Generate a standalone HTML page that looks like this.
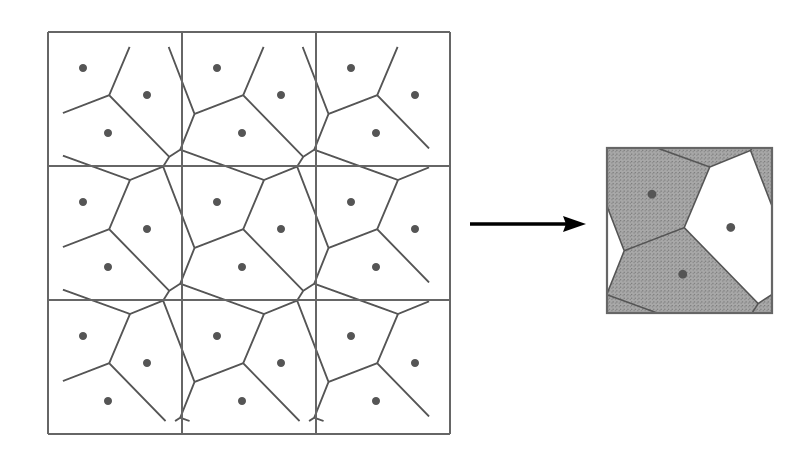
<!DOCTYPE html>
<html><head><meta charset="utf-8"><style>
html,body{margin:0;padding:0;background:#fff;overflow:hidden;width:794px;height:463px;}
svg{display:block;}
</style></head><body>
<svg id="fig" width="794" height="463" viewBox="0 0 794 463">
<defs>
<pattern id="stip" width="3" height="3" patternUnits="userSpaceOnUse">
<rect width="3" height="3" fill="#a8a8a8"/><rect width="1" height="1" fill="#7a7a7a"/><rect x="2" y="1" width="1" height="1" fill="#888"/>
</pattern>
</defs>
<g id="left"></g>
<g id="arrow">
<line x1="470" y1="224" x2="570" y2="224" stroke="#000" stroke-width="3.5"/>
<polygon points="586,224 563,216 566,224 563,232" fill="#000"/>
</g>
<g id="right"></g>
</svg>
<script>
const pointsX = [35, 99, 60];
const pointsY = [36, 63, 101];
const cellShade = ['gray', 'white', 'gray'];
const NS = 'http://www.w3.org/2000/svg';
const T = 134, OX = 48, OY = 32;
const IX0 = 63, IY0 = 47, IX1 = 429, IY1 = 421;

function clip(poly, px, py, qx, qy) {
  const mx = (px + qx) / 2, my = (py + qy) / 2, dx = qx - px, dy = qy - py;
  const f = p => (p[0] - mx) * dx + (p[1] - my) * dy;
  const out = [];
  for (let i = 0; i < poly.length; i++) {
    const a = poly[i], b = poly[(i + 1) % poly.length];
    const fa = f(a), fb = f(b);
    if (fa <= 0) out.push(a);
    if ((fa < 0 && fb > 0) || (fa > 0 && fb < 0)) {
      const t = fa / (fa - fb);
      out.push([a[0] + t * (b[0] - a[0]), a[1] + t * (b[1] - a[1])]);
    }
  }
  return out;
}
function clipSeg(a, b) {
  let t0 = 0, t1 = 1;
  const dx = b[0] - a[0], dy = b[1] - a[1];
  const P = [-dx, dx, -dy, dy], Q = [a[0] - IX0, IX1 - a[0], a[1] - IY0, IY1 - a[1]];
  for (let i = 0; i < 4; i++) {
    if (P[i] === 0) { if (Q[i] < 0) return null; continue; }
    const t = Q[i] / P[i];
    if (P[i] < 0) { if (t > t1) return null; if (t > t0) t0 = t; }
    else { if (t < t0) return null; if (t < t1) t1 = t; }
  }
  if (t1 - t0 < 1e-6) return null;
  return [[a[0] + t0 * dx, a[1] + t0 * dy], [a[0] + t1 * dx, a[1] + t1 * dy]];
}
function mk(tag, attrs, parent) {
  const e = document.createElementNS(NS, tag);
  for (const k in attrs) e.setAttribute(k, attrs[k]);
  parent.appendChild(e);
  return e;
}

// Left: periodic Voronoi, edges clipped to an inset region
const left = document.getElementById('left');
const all = [];
for (let r = -2; r <= 4; r++) for (let c = -2; c <= 4; c++)
  for (let k = 0; k < pointsX.length; k++)
    all.push([OX + c * T + pointsX[k], OY + r * T + pointsY[k], k, r, c]);
const big = [[OX - T, OY - T], [OX + 4 * T, OY - T], [OX + 4 * T, OY + 4 * T], [OX - T, OY + 4 * T]];
all.forEach((p, i) => {
  if (p[3] < -1 || p[3] > 3 || p[4] < -1 || p[4] > 3) return;
  let poly = big.slice();
  all.forEach((q, j) => {
    if (i !== j && Math.abs(q[0] - p[0]) < 2 * T && Math.abs(q[1] - p[1]) < 2 * T)
      poly = clip(poly, p[0], p[1], q[0], q[1]);
  });
  for (let e = 0; e < poly.length; e++) {
    const s = clipSeg(poly[e], poly[(e + 1) % poly.length]);
    if (!s) continue;
    const el = mk('line', {x1: s[0][0], y1: s[0][1], x2: s[1][0], y2: s[1][1], stroke: '#555', 'stroke-width': 1.7}, left);
    
    
  }
});
for (let i = 0; i <= 3; i++) {
  const v = mk('line', {x1: OX + i * T, y1: OY, x2: OX + i * T, y2: OY + 3 * T, stroke: '#666', 'stroke-width': 2}, left);
  
  
  const h = mk('line', {x1: OX, y1: OY + i * T, x2: OX + 3 * T, y2: OY + i * T, stroke: '#666', 'stroke-width': 2}, left);
  
  
}
all.forEach(p => {
  if (p[3] < 0 || p[3] > 2 || p[4] < 0 || p[4] > 2) return;
  const d = mk('circle', {cx: p[0], cy: p[1], r: 4, fill: '#555'}, left);
  
  
});

// Right: single periodic cell, scaled
const right = document.getElementById('right');
const RX = 607, RY = 148, S = 165 / T, W0 = -1.5;
const g = mk('g', {transform: `translate(${RX},${RY}) scale(${S}) translate(${-W0},${-W0})`}, right);
const ppts = [];
for (let r = -1; r <= 1; r++) for (let c = -1; c <= 1; c++)
  for (let k = 0; k < pointsX.length; k++)
    ppts.push([c * T + pointsX[k], r * T + pointsY[k], k]);
const cell = [[W0, W0], [W0 + T, W0], [W0 + T, W0 + T], [W0, W0 + T]];
ppts.forEach((p, i) => {
  let poly = cell.slice();
  ppts.forEach((q, j) => { if (i !== j) poly = clip(poly, p[0], p[1], q[0], q[1]); });
  if (poly.length < 3) return;
  const el = mk('polygon', {points: poly.map(v => v.join(',')).join(' '),
    fill: cellShade[p[2]] === 'gray' ? 'url(#stip)' : '#fff', stroke: '#555', 'stroke-width': 1.2}, g);
  
  
});
const border = mk('rect', {x: W0, y: W0, width: T, height: T, fill: 'none', stroke: '#666', 'stroke-width': 1.8}, g);


for (let k = 0; k < pointsX.length; k++) {
  const d = mk('circle', {cx: pointsX[k], cy: pointsY[k], r: 3.6, fill: '#555'}, g);
  
  
}
</script>
</body></html>
